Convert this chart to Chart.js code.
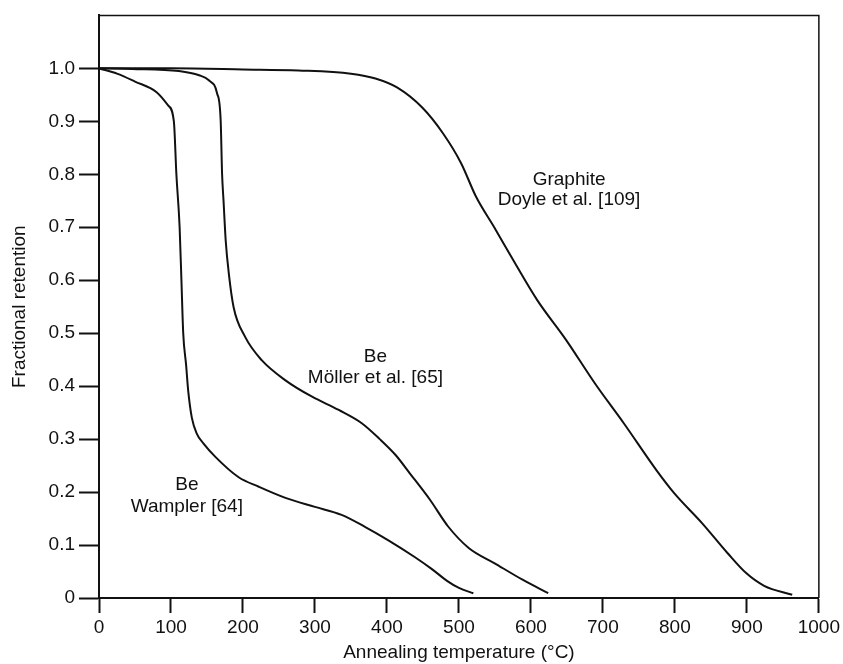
<!DOCTYPE html>
<html>
<head>
<meta charset="utf-8">
<title>Fractional retention vs annealing temperature</title>
<script src="https://cdn.jsdelivr.net/npm/chart.js@4/dist/chart.umd.min.js"></script>
<style>
  body { margin: 0; background: #fff; }
  #wrap { position: relative; width: 843px; height: 664px; }
</style>
</head>
<body>
<div id="wrap"><canvas id="retention-chart"></canvas></div>
<script>
// Be, Wampler [64]
const wamplerTemp = [0, 25, 50, 80, 96, 104, 107.5, 112, 114.5, 117, 121, 124, 129, 136, 145, 162, 194, 222, 259, 300, 337, 370, 402, 439, 462, 484, 500, 520];
const wamplerRetention = [1.0, 0.99, 0.975, 0.955, 0.93, 0.9, 0.8, 0.7, 0.6, 0.5, 0.44, 0.39, 0.34, 0.31, 0.292, 0.266, 0.228, 0.21, 0.189, 0.172, 0.157, 0.134, 0.109, 0.077, 0.055, 0.032, 0.019, 0.009];

// Be, Möller et al. [65]
const mollerTemp = [0, 46, 111, 139, 153, 164, 169, 171, 173, 176, 180.3, 187, 203, 226, 259, 296, 333, 365, 390, 412, 432, 460, 485, 514, 549, 589, 624];
const mollerRetention = [1.0, 0.999, 0.995, 0.987, 0.977, 0.953, 0.902, 0.8, 0.75, 0.675, 0.613, 0.549, 0.493, 0.449, 0.411, 0.38, 0.355, 0.33, 0.3, 0.27, 0.235, 0.185, 0.135, 0.094, 0.066, 0.034, 0.009];

// Graphite, Doyle et al. [109]
const graphiteTemp = [0, 100, 200, 277, 350, 384, 414, 449, 478, 503, 524, 549, 578, 609, 649, 689, 729, 774, 799, 838, 873, 899, 924, 963];
const graphiteRetention = [1.0, 1.0, 0.998, 0.996, 0.99, 0.981, 0.964, 0.926, 0.877, 0.821, 0.757, 0.7, 0.632, 0.562, 0.487, 0.405, 0.33, 0.242, 0.198, 0.141, 0.085, 0.047, 0.023, 0.006];

// Tick labels
const tempTicks = [0, 100, 200, 300, 400, 500, 600, 700, 800, 900, 1000];
const retentionTicks = [0, 0.1, 0.2, 0.3, 0.4, 0.5, 0.6, 0.7, 0.8, 0.9, 1.0];

// Curve captions (text lines) and where they sit, in temperature / retention units
const captionLines = [
  ['Be', 'Wampler [64]'],
  ['Be', 'Möller et al. [65]'],
  ['Graphite', 'Doyle et al. [109]']
];
const captionTemp = [122, 384, 653];
const captionRetention = [[0.213, 0.172], [0.455, 0.415], [0.789, 0.751]];

const INK = '#111';
const FONT = '"Liberation Sans", Arial, Helvetica, sans-serif';

Chart.defaults.font.family = FONT;
Chart.defaults.font.size = 19;
Chart.defaults.color = INK;

function toPoints(xs, ys) {
  return xs.map((x, i) => ({ x: x, y: ys[i] }));
}

function curve(label, xs, ys) {
  return {
    label: label,
    data: toPoints(xs, ys),
    borderColor: INK,
    borderWidth: 2,
    pointRadius: 0,
    fill: false,
    cubicInterpolationMode: 'monotone'
  };
}

// Closes the frame (top and right edges) and writes the curve captions
const framePlugin = {
  id: 'frameAndCaptions',
  afterDraw(chart) {
    const { ctx, chartArea } = chart;
    const xs = chart.scales.x;
    const ys = chart.scales.y;

    ctx.save();
    ctx.strokeStyle = INK;
    ctx.lineWidth = 1.5;
    ctx.beginPath();
    ctx.moveTo(chartArea.left, chartArea.top);
    ctx.lineTo(chartArea.right, chartArea.top);
    ctx.lineTo(chartArea.right, chartArea.bottom);
    ctx.stroke();

    ctx.fillStyle = INK;
    ctx.font = '19px ' + FONT;
    ctx.textAlign = 'center';
    ctx.textBaseline = 'middle';
    captionLines.forEach((lines, i) => {
      const px = xs.getPixelForValue(captionTemp[i]);
      lines.forEach((text, j) => {
        ctx.fillText(text, px, ys.getPixelForValue(captionRetention[i][j]));
      });
    });
    ctx.restore();
  }
};

new Chart(document.getElementById('retention-chart'), {
  type: 'line',
  data: {
    datasets: [
      curve('Be, Wampler [64]', wamplerTemp, wamplerRetention),
      curve('Be, Möller et al. [65]', mollerTemp, mollerRetention),
      curve('Graphite, Doyle et al. [109]', graphiteTemp, graphiteRetention)
    ]
  },
  options: {
    responsive: true,
    maintainAspectRatio: false,
    animation: false,
    layout: { padding: { top: 15, right: 22, left: 0, bottom: 0 } },
    plugins: {
      legend: { display: false },
      tooltip: { enabled: false }
    },
    scales: {
      x: {
        type: 'linear',
        min: 0,
        max: 1000,
        afterBuildTicks: scale => { scale.ticks = tempTicks.map(v => ({ value: v })); },
        afterFit: scale => { scale.height = 66; },
        ticks: { padding: 3, color: INK, maxRotation: 0, callback: v => String(v) },
        grid: { drawOnChartArea: false, drawTicks: true, tickLength: 15, tickColor: INK, tickWidth: 2 },
        border: { display: true, color: INK, width: 2 },
        title: {
          display: true,
          text: 'Annealing temperature (°C)',
          color: INK,
          font: { size: 19 },
          padding: { top: 0, bottom: 0 }
        }
      },
      y: {
        type: 'linear',
        min: 0,
        max: 1.1,
        afterBuildTicks: scale => { scale.ticks = retentionTicks.map(v => ({ value: v })); },
        afterFit: scale => { scale.width = 99; },
        ticks: {
          padding: 4,
          color: INK,
          callback: v => (v === 0 ? '0' : v.toFixed(1))
        },
        grid: { drawOnChartArea: false, drawTicks: true, tickLength: 20, tickColor: INK, tickWidth: 2 },
        border: { display: true, color: INK, width: 2 },
        title: {
          display: true,
          text: 'Fractional retention',
          color: INK,
          font: { size: 19 },
          padding: { top: 8, bottom: 0 }
        }
      }
    }
  },
  plugins: [framePlugin]
});
</script>
</body>
</html>
